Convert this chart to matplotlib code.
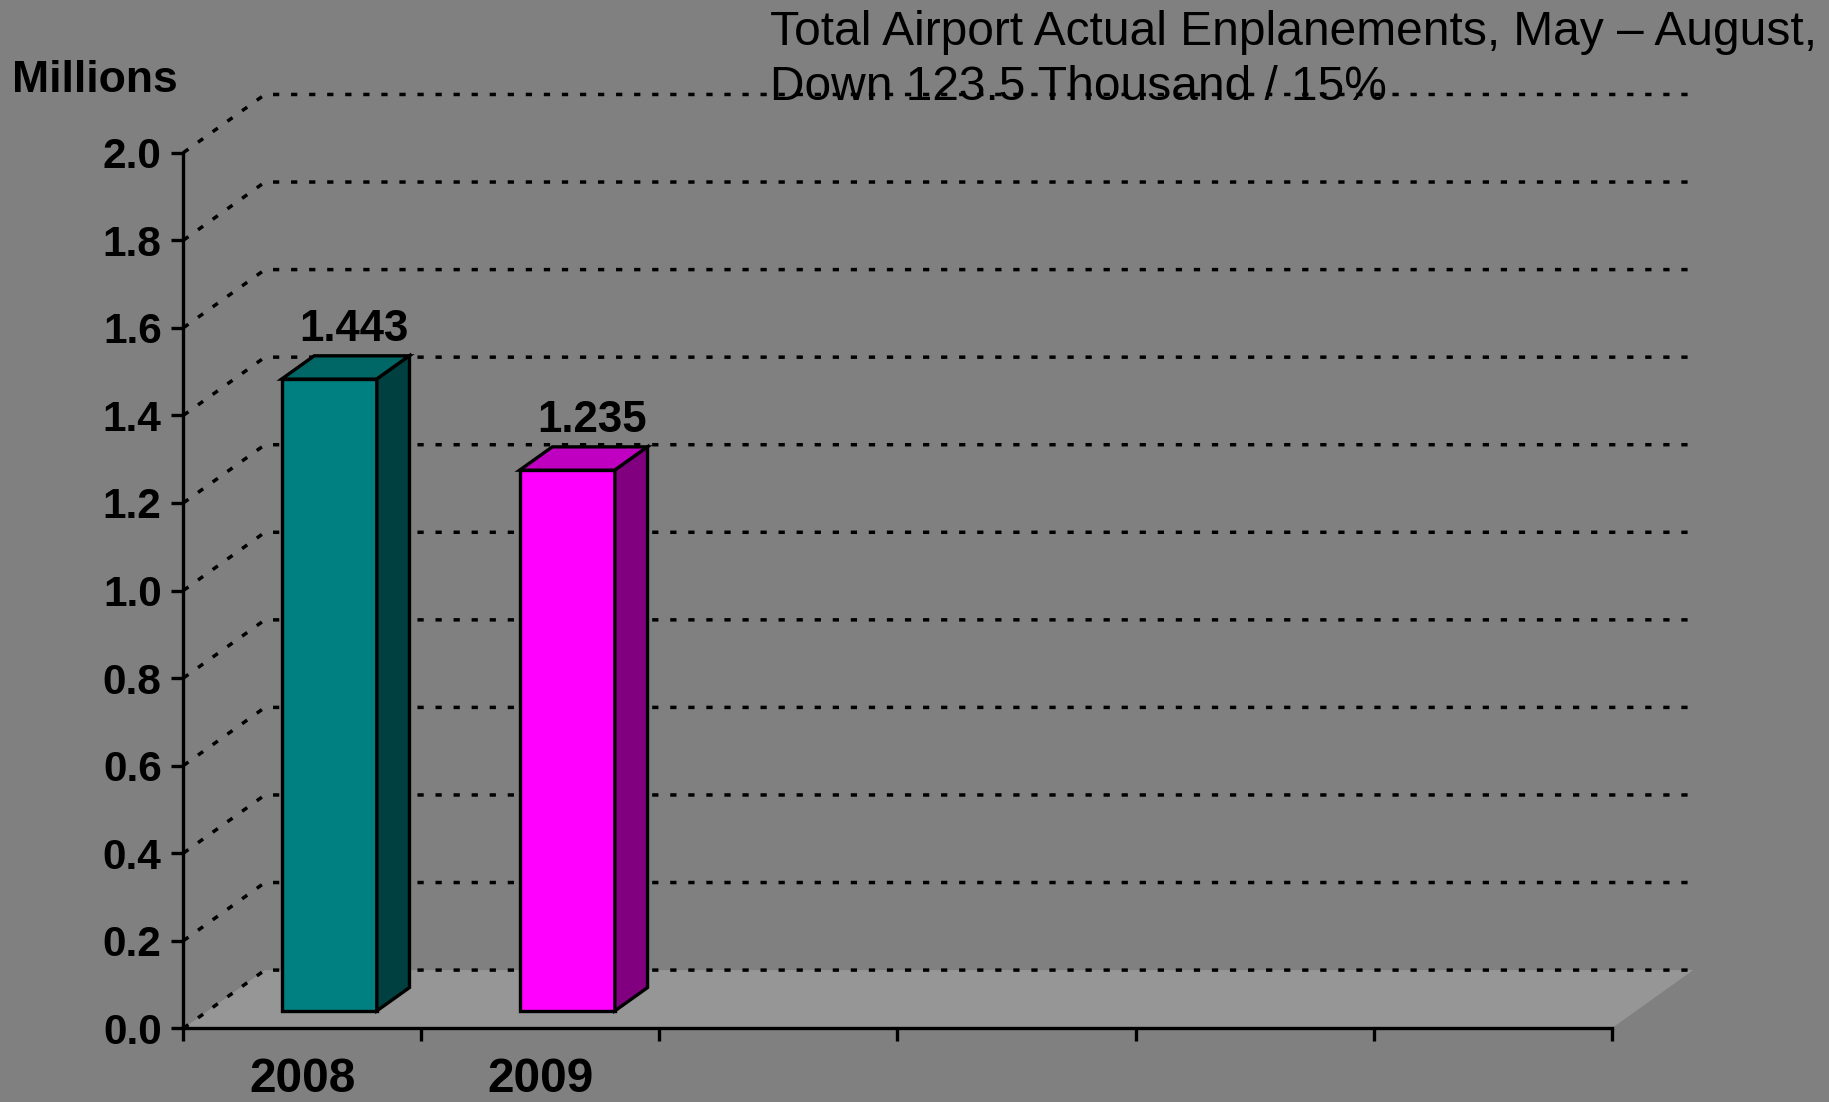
import numpy as np
import matplotlib
matplotlib.use('Agg')
import matplotlib.pyplot as plt
from matplotlib.patches import Polygon

plt.rcParams['font.family'] = ['Liberation Sans', 'DejaVu Sans']

# Data
years = ['2008', '2009']
enplanements = [1.443, 1.235]   # millions
value_labels = ['1.443', '1.235']
n_slots = 6                      # category slots on the x axis
y_ticks = [0.0, 0.2, 0.4, 0.6, 0.8, 1.0, 1.2, 1.4, 1.6, 1.8, 2.0]
title_lines = ['Total Airport Actual Enplanements, May \u2013 August,',
               'Down 123.5 Thousand / 15%']

# Colours
BG = '#808080'
FLOOR = '#969696'
bar_colors = [
    {'front': '#008080', 'top': '#006666', 'side': '#004040'},
    {'front': '#ff00ff', 'top': '#c000c0', 'side': '#800080'},
]

# Oblique "3D" depth offset, in data units (x: category, y: millions)
DX = 0.343
DY = 0.133
BAR_W = 0.4
Z0, Z1 = 0.3, 0.7


def proj(x, y, z):
    return (x + z * DX, y + z * DY)


fig = plt.figure(figsize=(18.29, 11.02), dpi=100, facecolor=BG)
ax = fig.add_axes([0, 0, 1, 1])
ax.set_facecolor(BG)
ax.set_xlim(-0.770, 6.913)
ax.set_ylim(-0.1683, 2.3488)

# Floor
floor = [proj(0, 0, 0), proj(n_slots, 0, 0), proj(n_slots, 0, 1), proj(0, 0, 1)]
ax.add_patch(Polygon(floor, closed=True, facecolor=FLOOR, edgecolor='none', zorder=1))

# Gridlines on the side wall and the back wall
for v in y_ticks:
    pts = [proj(0, v, 0), proj(0, v, 1), proj(n_slots, v, 1)]
    xs, ys = zip(*pts)
    ax.plot(xs, ys, color='black', lw=2.5, linestyle=(0, (1.8, 3.4)),
            solid_joinstyle='miter', zorder=2)

# Bars
for i, (val, col) in enumerate(zip(enplanements, bar_colors)):
    x0 = i + 0.51 - BAR_W / 2
    x1 = i + 0.51 + BAR_W / 2
    front = [proj(x0, 0, Z0), proj(x1, 0, Z0), proj(x1, val, Z0), proj(x0, val, Z0)]
    top = [proj(x0, val, Z0), proj(x1, val, Z0), proj(x1, val, Z1), proj(x0, val, Z1)]
    side = [proj(x1, 0, Z0), proj(x1, 0, Z1), proj(x1, val, Z1), proj(x1, val, Z0)]
    for face, key in [(front, 'front'), (top, 'top'), (side, 'side')]:
        ax.add_patch(Polygon(face, closed=True, facecolor=col[key], edgecolor='black',
                             lw=2.4, joinstyle='miter', zorder=3))
    lx, ly = proj(i + 0.51, val + 0.087, Z0)
    ax.text(lx + 0.105, ly, value_labels[i], ha='center', va='baseline',
            fontsize=31.5, fontweight='bold', color='black', zorder=4)

# Axes
for s in ['top', 'right']:
    ax.spines[s].set_visible(False)
ax.spines['left'].set_position(('data', 0))
ax.spines['left'].set_bounds(0, 2)
ax.spines['bottom'].set_position(('data', 0))
ax.spines['bottom'].set_bounds(0, n_slots)
for s in ['left', 'bottom']:
    ax.spines[s].set_linewidth(2.4)
    ax.spines[s].set_color('black')
    ax.spines[s].set_zorder(5)

ax.set_yticks(y_ticks)
ax.set_yticklabels([f'{v:.1f}' for v in y_ticks], fontweight='bold')
ax.tick_params(axis='y', direction='out', length=8.6, width=2.4, pad=7,
               labelsize=30.5, colors='black')

ax.set_xticks(range(n_slots + 1))
ax.set_xticklabels([])
ax.tick_params(axis='x', which='major', direction='out', length=9, width=2.4)
ax.set_xticks([i + 0.5 for i in range(len(years))], minor=True)
ax.set_xticklabels(years, minor=True, fontweight='bold')
ax.tick_params(axis='x', which='minor', length=0, pad=21, labelsize=34.5, colors='black')

# Texts
fig.text(12 / 1829, 1 - 92 / 1102, 'Millions', fontsize=32, fontweight='bold',
         ha='left', va='baseline', color='black')
fig.text(770 / 1829, 1 - 45 / 1102, title_lines[0], fontsize=34.5,
         ha='left', va='baseline', color='black')
fig.text(770 / 1829, 1 - 100 / 1102, title_lines[1], fontsize=34.5,
         ha='left', va='baseline', color='black')

fig.savefig('out.png', dpi=100, facecolor=BG)
